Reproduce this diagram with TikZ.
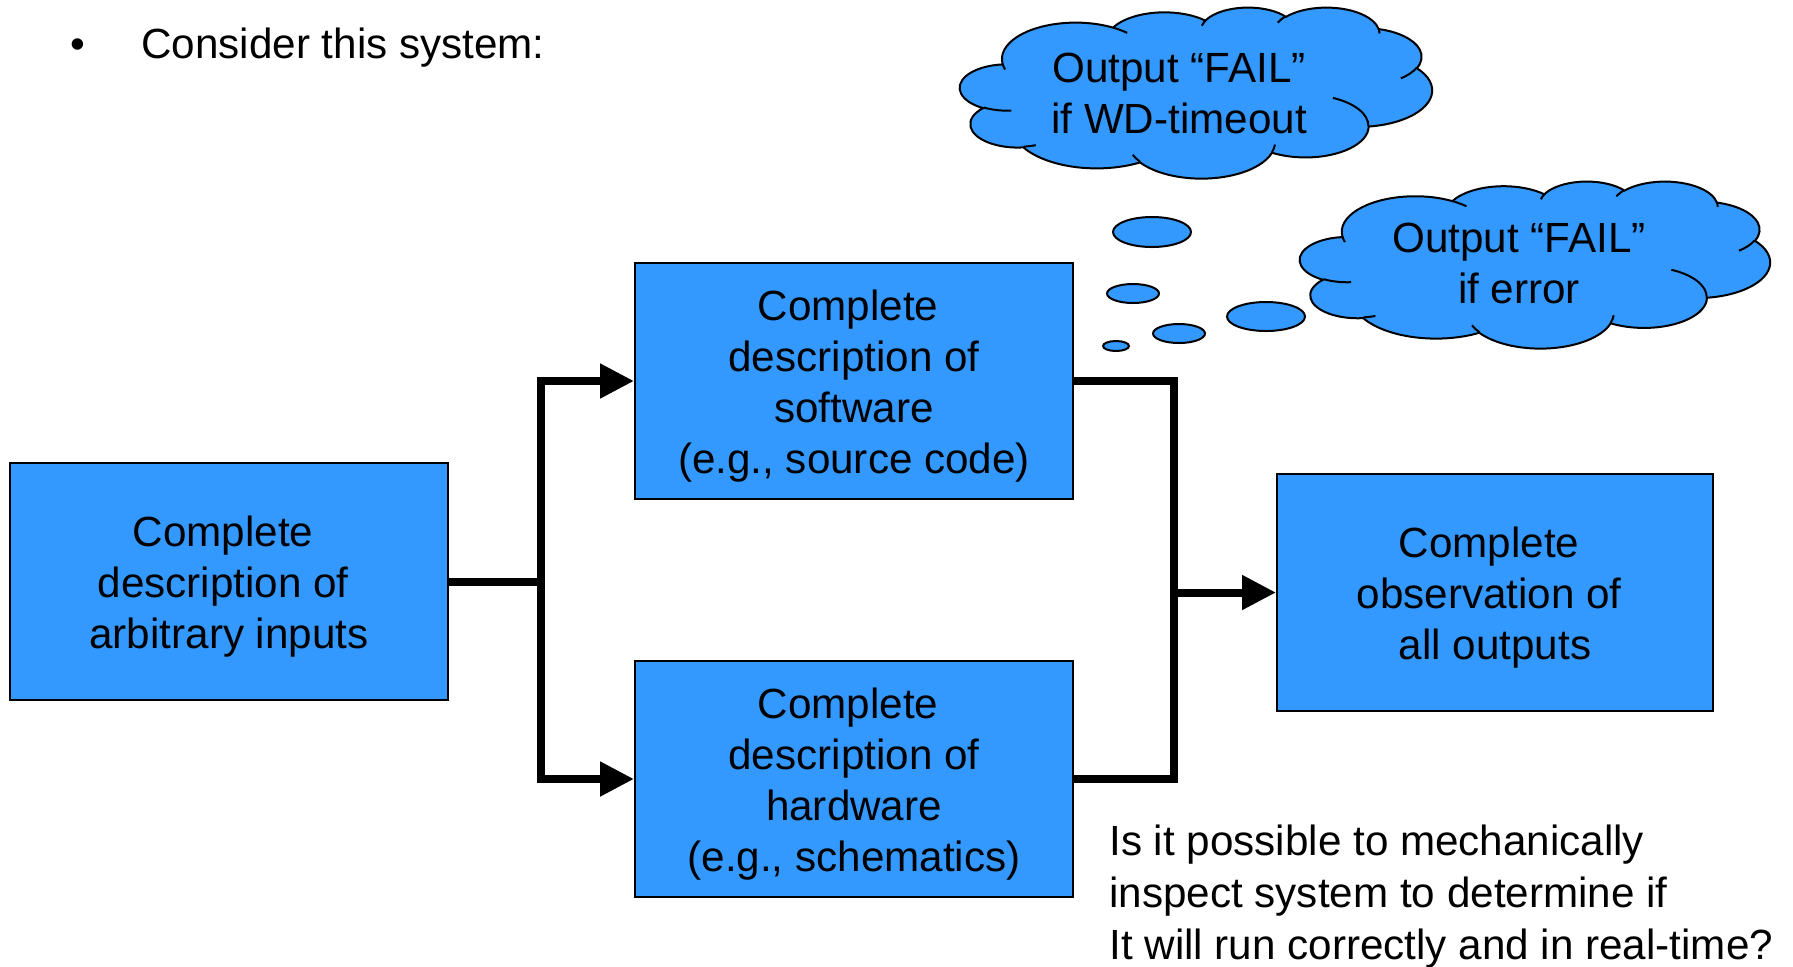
\documentclass[tikz,border=0pt]{standalone}
\usepackage{fontspec}
\setmainfont{Liberation Sans}
\usetikzlibrary{arrows.meta}
\definecolor{boxblue}{HTML}{3399FF}

\newcommand\bxfont{\fontsize{21.1pt}{25.5pt}\selectfont}
\newcommand\qfont{\fontsize{21.1pt}{24.5pt}\selectfont}
\newcommand\ls{\rule[-4.75pt]{0pt}{25.5pt}}
\newcommand\lsb{\rule[-3.75pt]{0pt}{24.5pt}}
\newcommand\tsp{\hbox to 0.278em{}}

% PowerPoint-like cloud outline, built from elliptical arcs (angles are ray angles)
\def\cloudpath{}
\def\innerpath{}
\newcommand\ooarc[4]{%
  \pgfmathsetmacro\tA{atan2((#1)*sin(#3),(#2)*cos(#3))}%
  \pgfmathsetmacro\tB{atan2((#1)*sin((#3)+(#4)),(#2)*cos((#3)+(#4)))}%
  \pgfmathsetmacro\tD{mod(\tB-\tA+720,360)}%
  \xdef\cloudpath{\cloudpath arc[start angle=\tA, delta angle=\tD, x radius=#1, y radius=#2]}%
}
\newcommand\ooinner[6]{%
  \pgfmathsetmacro\tA{atan2((#3)*sin(#5),(#4)*cos(#5))}%
  \pgfmathsetmacro\tB{atan2((#3)*sin((#5)+(#6)),(#4)*cos((#5)+(#6)))}%
  \pgfmathsetmacro\tD{mod(\tB-\tA+720,360)}%
  \xdef\innerpath{\innerpath (#1,#2) arc[start angle=\tA, delta angle=\tD, x radius=#3, y radius=#4]}%
}
\ooarc{67.53}{91.90}{-190.4875}{123.7805}
\ooarc{53.33}{72.67}{-144.1024}{89.9452}
\ooarc{43.65}{59.45}{-145.8079}{99.7230}
\ooarc{48.57}{65.95}{-130.9861}{117.2417}
\ooarc{53.33}{72.73}{-78.7089}{109.0269}
\ooarc{67.75}{92.20}{-46.2673}{130.2690}
\ooarc{57.85}{78.67}{0.6250}{114.0333}
\ooarc{67.52}{92.15}{22.4516}{115.1726}
\ooarc{77.20}{105.43}{66.2426}{75.7110}
\ooarc{43.60}{59.18}{-274.9421}{146.7356}
\ooarc{43.45}{59.45}{-246.8285}{152.5189}
\ooinner{46.93}{261.77}{43.45}{59.45}{86.7420}{26.4295}
\ooinner{69.28}{348.99}{43.60}{59.18}{73.6105}{11.4475}
\ooinner{164.78}{390.90}{67.52}{92.15}{137.6242}{14.0811}
\ooinner{288.27}{347.51}{67.52}{92.15}{6.4533}{15.9984}
\ooinner{341.29}{229.54}{57.85}{78.67}{-70.2924}{70.9174}
\ooinner{417.98}{153.54}{53.33}{72.73}{30.3180}{27.7515}
\ooinner{383.24}{54.26}{48.57}{65.95}{-13.7443}{14.8589}
\ooinner{290.78}{39.52}{48.57}{65.95}{-149.1815}{18.1954}
\ooinner{221.41}{47.20}{43.65}{59.45}{-163.4943}{17.6864}
\ooinner{140.00}{51.92}{67.53}{91.90}{-66.7070}{12.3194}
\ooinner{41.27}{157.89}{67.53}{91.90}{157.6544}{11.8582}

\begin{document}
\begin{tikzpicture}[x=0.5pt,y=-0.5pt,
  box/.style={draw=black, line width=1pt, fill=boxblue, inner sep=0pt,
    align=center, font=\bxfont, minimum width=219pt},
  conn/.style={line width=4pt},
  arr/.style={conn, -{Triangle[length=17pt,width=16.5pt]}},
  puff/.style={draw=black, line width=1pt, fill=boxblue},
  cloudline/.style={draw=black, line width=1pt},
  ctext/.style={inner sep=0pt, align=center, font=\bxfont}]
\useasboundingbox (0,0) rectangle (1793,966);

% heading
\node[anchor=base west, inner sep=0pt, font=\bxfont] (head) at (70,58)
  {\makebox[35.5pt][l]{•}Consider this system:};

% boxes
\node[box, minimum height=118.5pt] (in) at (229,581.5)
  {\ls Complete\tsp\\\ls description of\tsp\\\ls arbitrary inputs};
\node[box, minimum height=118pt] (sw) at (854,381)
  {\ls Complete\tsp\\\ls description of\\\ls software\\\ls (e.g., source code)};
\node[box, minimum height=118pt] (hw) at (854,779)
  {\ls Complete\tsp\\\ls description of\\\ls hardware\\\ls (e.g., schematics)};
\node[box, minimum width=218pt, minimum height=118.5pt] (out) at (1495,592.5)
  {\ls Complete\tsp\\\ls observation of\tsp\\\ls all outputs};

% connectors
\coordinate (split) at (541,581.5);
\coordinate (merge) at (1174,592.5);
\draw[conn] (in.east) -- (split);
\draw[arr] (split) |- (sw.west);
\draw[arr] (split) |- (hw.west);
\draw[conn] (sw.east) -| (merge);
\draw[conn] (hw.east) -| (merge);
\draw[arr] (merge) -- (out.west);

% thought bubbles
\draw[puff] (1152,232) ellipse [x radius=39, y radius=15];
\draw[puff] (1133,293.5) ellipse [x radius=26, y radius=9.5];
\draw[puff] (1179,333.5) ellipse [x radius=26, y radius=9.5];
\draw[puff] (1116,346) ellipse [x radius=13, y radius=5];
\draw[puff] (1266,316.5) ellipse [x radius=39, y radius=14.5];

% cloud 1
\begin{scope}[shift={(960,7)}, x=0.5463pt, y=-0.19792pt]
  \edef\tmp{\noexpand\filldraw[puff] (39.00,143.70) \cloudpath -- cycle;}\tmp
  \edef\tmp{\noexpand\draw[cloudline] \innerpath;}\tmp
\end{scope}
% cloud 2
\begin{scope}[shift={(1300,181)}, x=0.54398pt, y=-0.19329pt]
  \edef\tmp{\noexpand\filldraw[puff] (39.00,143.70) \cloudpath -- cycle;}\tmp
  \edef\tmp{\noexpand\draw[cloudline] \innerpath;}\tmp
\end{scope}
\node[ctext] (c1) at (1179,91.5) {\ls Output “FAIL”\\\ls if WD-timeout};
\node[ctext] (c2) at (1519,261.5) {\ls Output “FAIL”\\\ls if error};

% question
\node[anchor=north west, inner sep=0pt, align=left, font=\qfont] (q) at (1109,813.5)
  {\lsb Is it possible to mechanically\\\lsb inspect system to determine if\\\lsb It will run correctly and in real-time?};
\end{tikzpicture}
\end{document}
